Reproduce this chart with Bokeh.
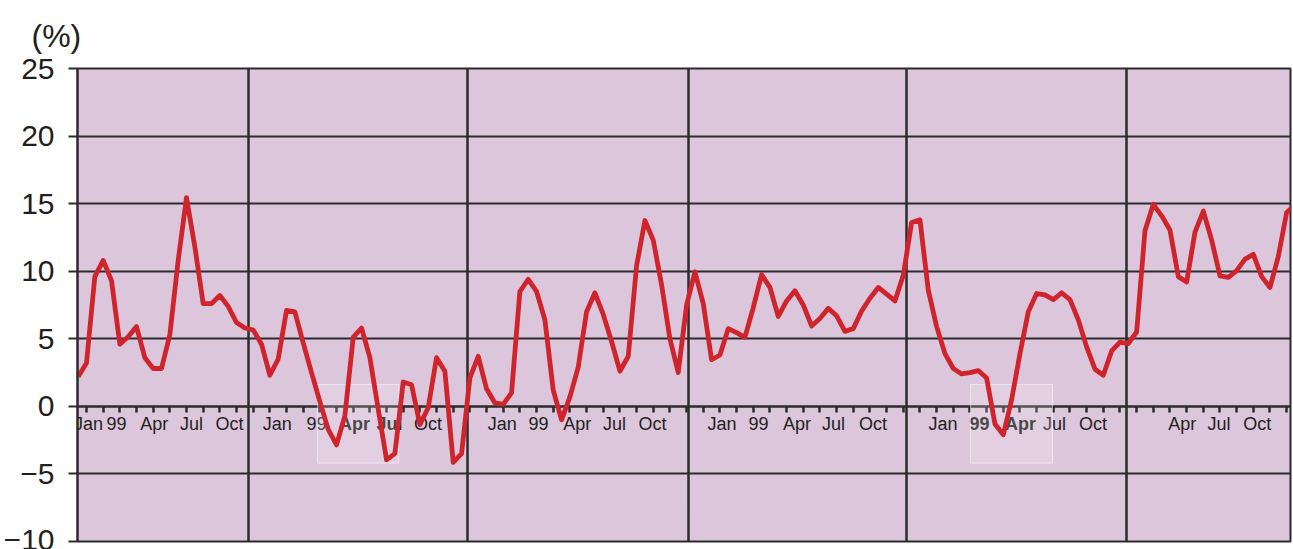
from bokeh.plotting import figure
from bokeh.models import FixedTicker, BoxAnnotation, LinearAxis, Title
from bokeh.embed import file_html
from bokeh.resources import INLINE

# ---- data (semi-monthly readings, %) ----
growth = [2.2, 3.2, 9.6, 10.8, 9.3, 4.6, 5.15, 5.9, 3.6, 2.8,
          2.8, 5.3, 10.8, 15.45, 11.8, 7.6, 7.6, 8.2, 7.4, 6.2,
          5.8, 5.65, 4.6, 2.3, 3.5, 7.1, 7.0, 4.7, 2.5, 0.35,
          -1.7, -2.85, -0.7, 5.1, 5.8, 3.6, -0.2, -3.95, -3.5, 1.8,
          1.6, -1.35, -0.1, 3.6, 2.6, -4.15, -3.5, 2.1, 3.7, 1.3,
          0.25, 0.15, 1.0, 8.5, 9.4, 8.5, 6.4, 1.2, -1.0, 0.7,
          2.9, 7.0, 8.4, 6.8, 4.8, 2.6, 3.7, 10.4, 13.75, 12.3,
          9.0, 5.0, 2.5, 7.5, 9.95, 7.6, 3.45, 3.8, 5.75, 5.45,
          5.1, 7.3, 9.75, 8.8, 6.65, 7.8, 8.55, 7.5, 5.95, 6.5,
          7.25, 6.7, 5.55, 5.75, 7.05, 8.0, 8.8, 8.3, 7.8, 9.7,
          13.6, 13.8, 8.6, 5.9, 3.9, 2.8, 2.4, 2.5, 2.65, 2.1,
          -1.3, -2.1, 0.5, 3.9, 7.0, 8.35, 8.25, 7.9, 8.4, 7.9,
          6.4, 4.4, 2.75, 2.3, 4.1, 4.76, 4.65, 5.5, 13.0, 14.95,
          14.1, 13.05, 9.6, 9.2, 12.9, 14.45, 12.3, 9.65, 9.55, 10.05,
          10.9, 11.25, 9.6, 8.8, 11.1, 14.35, 14.9]
months = [-0.5 + 0.5 * i for i in range(len(growth))]

month_ticks = list(range(0, 73))
panel_edges = [9.72, 22.86, 36.11, 49.19, 62.39]
y_ticks = [-10, -5, 0, 5, 10, 15, 20, 25]

label_text = ["Jan", "99", "Apr", "Jul", "Oct",
              "Jan", "99", "Apr", "Jul", "Oct",
              "Jan", "99", "Apr", "Jul", "Oct",
              "Jan", "99", "Apr", "Jul", "Oct",
              "Jan", "99", "Apr", "Jul", "Oct",
              "Apr", "Jul", "Oct"]
label_pos = [0.12, 1.8, 4.06, 6.3, 8.58,
             11.44, 13.8, 16.08, 18.18, 20.49,
             24.94, 27.11, 29.44, 31.67, 33.95,
             38.13, 40.31, 42.63, 44.81, 47.18,
             51.38, 53.57, 56.03, 58.07, 60.38,
             65.73, 67.94, 70.23]
label_bold = [False] * 7 + [True, True] + [False] * 12 + [True, True] + [False] * 5

highlight_boxes = [(13.86, 18.72), (53.03, 57.95)]

DARK = "#2b2b2b"
TEXT = "#231f20"

p = figure(width=1293, height=549, x_range=(-0.54, 72.23), y_range=(-10, 25),
           output_backend="svg", toolbar_location=None, x_axis_location=None,
           min_border_left=77, min_border_right=3, min_border_top=67, min_border_bottom=8)

p.background_fill_color = "#dcc6dc"
p.border_fill_color = "white"
p.outline_line_color = DARK
p.outline_line_width = 2

# "(%)" unit marker as a left-aligned title
p.title = Title(text="(%)", align="left", offset=-46, standoff=30,
                text_font="Liberation Sans", text_font_size="32px",
                text_font_style="normal", text_color=TEXT)

# y axis
p.yaxis.ticker = FixedTicker(ticks=y_ticks)
p.yaxis.major_tick_out = 9
p.yaxis.major_tick_in = 0
p.yaxis.minor_tick_out = 0
p.yaxis.minor_tick_in = 0
p.yaxis.major_tick_line_width = 2
p.yaxis.major_tick_line_color = DARK
p.yaxis.axis_line_color = DARK
p.yaxis.axis_line_width = 2
p.yaxis.major_label_standoff = 14
p.yaxis.major_label_text_font = "Liberation Sans"
p.yaxis.major_label_text_font_size = "30px"
p.yaxis.major_label_text_color = TEXT

# grids
p.ygrid.ticker = FixedTicker(ticks=y_ticks)
p.ygrid.grid_line_color = DARK
p.ygrid.grid_line_width = 2
p.xgrid.ticker = FixedTicker(ticks=panel_edges)
p.xgrid.grid_line_color = DARK
p.xgrid.grid_line_width = 2.5

for left, right in highlight_boxes:
    p.add_layout(BoxAnnotation(left=left, right=right, bottom=-4.2, top=1.62,
                               fill_color="white", fill_alpha=0.18,
                               line_color="white", line_alpha=0.5, line_width=1,
                               level="underlay"))

# month tick marks along the zero line
xax = LinearAxis(fixed_location=0, ticker=FixedTicker(ticks=month_ticks),
                 major_tick_out=6, major_tick_in=0, minor_tick_out=0, minor_tick_in=0,
                 major_tick_line_width=2.5, major_tick_line_color=DARK,
                 axis_line_color=DARK, axis_line_width=2,
                 major_label_text_color=None, major_label_text_font_size="1px",
                 level="underlay")
p.add_layout(xax, "below")

# month labels (normal and bold) as tickless axes along the zero line
def label_axis(bold):
    pos = [x for x, b in zip(label_pos, label_bold) if b == bold]
    txt = {x: t for x, t, b in zip(label_pos, label_text, label_bold) if b == bold}
    return LinearAxis(fixed_location=0, ticker=FixedTicker(ticks=pos),
                      major_label_overrides=txt,
                      major_tick_out=0, major_tick_in=0, minor_tick_out=0, minor_tick_in=0,
                      axis_line_color=None, major_label_standoff=8,
                      major_label_text_font="Liberation Sans",
                      major_label_text_font_size="18px",
                      major_label_text_font_style="bold" if bold else "normal",
                      major_label_text_color=TEXT, level="underlay")

p.add_layout(label_axis(False), "below")
p.add_layout(label_axis(True), "below")

p.line(months, growth, line_color="#d0242c", line_width=4.8, line_join="round")

open("out.html", "w").write(file_html(p, INLINE))
